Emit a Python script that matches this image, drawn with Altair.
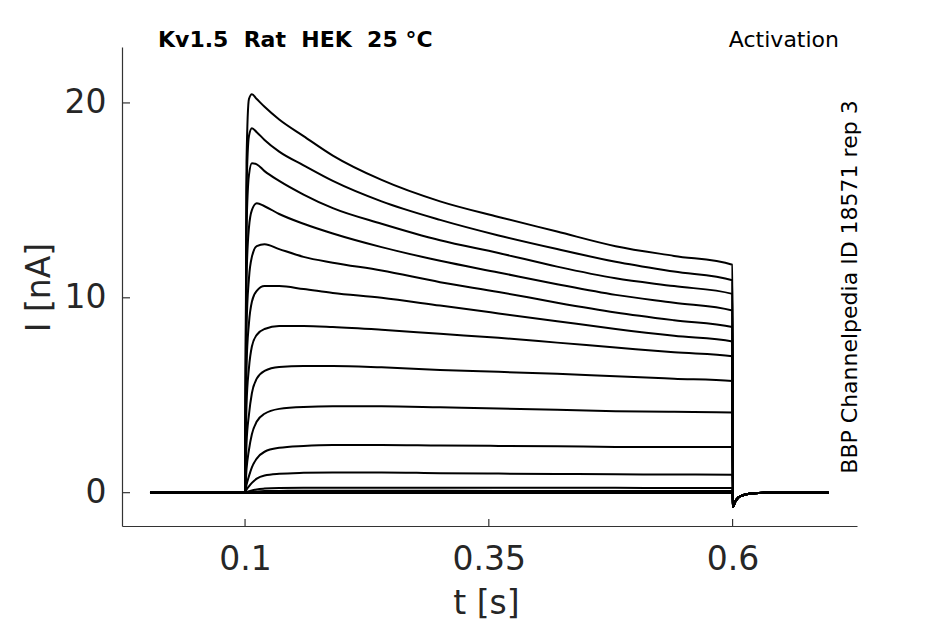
import altair as alt
import pandas as pd

# ---- data ----
t_base = [0.0025, 0.1]
t_pulse = [0.1015, 0.104, 0.107, 0.112, 0.12, 0.135, 0.16, 0.19, 0.24,
           0.30, 0.36, 0.42, 0.48, 0.54, 0.5998]
t_tail = [0.6003, 0.6027, 0.6062, 0.6113, 0.6216, 0.635, 0.6985]
i_tail = [-0.72, -0.46, -0.24, -0.12, -0.03, 0.0, 0.0]

trace_a = [17.0, 20.2, 20.45, 20.2, 19.8, 19.15, 18.3, 17.3, 16.05, 14.95, 14.15, 13.4, 12.65, 12.15, 11.7]
trace_b = [15.5, 18.3, 18.7, 18.5, 18.1, 17.5, 16.8, 16.0, 14.95, 14.0, 13.2, 12.5, 11.85, 11.35, 10.9]
trace_c = [13.5, 16.3, 16.9, 16.85, 16.5, 16.0, 15.3, 14.6, 13.8, 12.95, 12.3, 11.6, 11.0, 10.6, 10.2]
trace_d = [11.0, 13.6, 14.5, 14.85, 14.7, 14.3, 13.8, 13.3, 12.6, 11.9, 11.3, 10.7, 10.15, 9.75, 9.35]
trace_e = [8.5, 11.0, 12.1, 12.65, 12.75, 12.5, 12.1, 11.8, 11.4, 10.8, 10.3, 9.75, 9.25, 8.85, 8.5]
trace_f = [6.5, 8.7, 9.8, 10.35, 10.6, 10.6, 10.45, 10.25, 10.0, 9.6, 9.2, 8.8, 8.4, 8.05, 7.76]
trace_g = [4.5, 6.4, 7.5, 8.1, 8.4, 8.55, 8.55, 8.5, 8.36, 8.15, 7.95, 7.7, 7.45, 7.2, 7.0]
trace_h = [2.5, 4.0, 5.1, 5.85, 6.25, 6.45, 6.5, 6.5, 6.43, 6.3, 6.2, 6.1, 5.97, 5.85, 5.73]
trace_i = [1.2, 2.2, 3.0, 3.65, 4.05, 4.3, 4.4, 4.43, 4.43, 4.38, 4.32, 4.25, 4.18, 4.15, 4.12]
trace_j = [0.4, 0.85, 1.3, 1.75, 2.1, 2.3, 2.4, 2.45, 2.45, 2.42, 2.4, 2.38, 2.35, 2.34, 2.34]
trace_k = [0.15, 0.32, 0.5, 0.72, 0.88, 0.97, 1.02, 1.04, 1.04, 1.0, 0.98, 0.96, 0.94, 0.93, 0.92]
trace_l = [0.03, 0.07, 0.12, 0.17, 0.21, 0.24, 0.25, 0.25, 0.25, 0.25, 0.25, 0.25, 0.25, 0.24, 0.24]
trace_m = [0.01, 0.02, 0.04, 0.06, 0.08, 0.09, 0.1, 0.1, 0.1, 0.1, 0.09, 0.09, 0.09, 0.08, 0.08]
trace_n = [0.0, 0.01, 0.01, 0.02, 0.02, 0.03, 0.03, 0.03, 0.03, 0.03, 0.03, 0.03, 0.03, 0.03, 0.03]
trace_o = [0.0, 0.0, 0.0, 0.0, 0.0, 0.0, 0.0, 0.0, 0.0, 0.0, 0.0, 0.0, 0.0, 0.0, 0.0]
trace_p = [-0.02, -0.02, -0.02, -0.02, -0.02, -0.02, -0.02, -0.02, -0.02, -0.02, -0.02, -0.02, -0.02, -0.02, -0.02]

x_ticks = [0.1, 0.35, 0.6]
y_ticks = [0, 10, 20]

title_left = "Kv1.5\u00a0\u00a0Rat\u00a0\u00a0HEK\u00a0\u00a025\u00a0°C"
title_right = "Activation"
side_label = "BBP Channelpedia ID 18571 rep 3"

traces = [trace_a, trace_b, trace_c, trace_d, trace_e, trace_f, trace_g, trace_h,
          trace_i, trace_j, trace_k, trace_l, trace_m, trace_n, trace_o, trace_p]

rows = []
for k, tr in enumerate(traces):
    ts = t_base + t_pulse + t_tail
    vs = [0.0, 0.0] + tr + i_tail
    for o, (t, v) in enumerate(zip(ts, vs)):
        rows.append({"trace": k, "t": t, "i": v, "o": o})
df = pd.DataFrame(rows)

W, H = 735, 479
FONT = "DejaVu Sans"
TXT = "#262626"

xscale = alt.Scale(domain=[-0.0262, 0.7276], nice=False, zero=False)
yscale = alt.Scale(domain=[-1.71, 22.87], nice=False, zero=False)

xaxis = alt.Axis(values=x_ticks, labelExpr="format(datum.value, '.2~f')",
                 title="t [s]",
                 ticks=False, tickSize=0, labelPadding=43,
                 labelBaseline="alphabetic", grid=False,
                 titleX=364, titleY=87, titleBaseline="alphabetic",
                 titleAlign="center", titleAnchor="middle")
yaxis = alt.Axis(values=y_ticks, labelExpr="format(datum.value, 'd')",
                 title="I [nA]",
                 ticks=False, tickSize=0, labelPadding=16, grid=False,
                 titleX=-73, titleY=240, titleAngle=270,
                 titleBaseline="alphabetic", titleAlign="center",
                 titleAnchor="middle")

lines = alt.Chart(df).mark_line(
    color="black", strokeWidth=2.0, interpolate="monotone"
).encode(
    x=alt.X("t:Q", scale=xscale, axis=xaxis),
    y=alt.Y("i:Q", scale=yscale, axis=yaxis),
    detail="trace:N",
    order="o:Q",
)

xt = alt.Chart(pd.DataFrame({"t": x_ticks})).mark_rule(
    color="#333333", strokeWidth=1.2
).encode(
    x=alt.X("t:Q", scale=xscale, axis=xaxis),
    y=alt.value(H), y2=alt.value(H - 7),
)
yt = alt.Chart(pd.DataFrame({"i": y_ticks})).mark_rule(
    color="#333333", strokeWidth=1.2
).encode(
    y=alt.Y("i:Q", scale=yscale, axis=yaxis),
    x=alt.value(0), x2=alt.value(8),
)

one = pd.DataFrame({"a": [0]})
t1 = alt.Chart(one).mark_text(
    text=title_left, font=FONT, fontSize=22, fontWeight="bold", color="black",
    align="left", baseline="alphabetic"
).encode(x=alt.value(36), y=alt.value(0))
t2 = alt.Chart(one).mark_text(
    text=title_right, font=FONT, fontSize=22, color="black",
    align="right", baseline="alphabetic"
).encode(x=alt.value(717), y=alt.value(0))
t3 = alt.Chart(one).mark_text(
    text=side_label, font=FONT, fontSize=22, color="black", angle=270,
    align="center", baseline="alphabetic"
).encode(x=alt.value(735), y=alt.value(240))

chart = alt.layer(lines, xt, yt, t1, t2, t3).properties(
    width=W, height=H,
    autosize=alt.AutoSizeParams(type="none"),
    padding={"left": 114, "top": 39, "right": 80, "bottom": 98},
).configure_view(stroke=None).configure_axis(
    labelFont=FONT, titleFont=FONT, labelFontSize=33, titleFontSize=33,
    labelColor=TXT, titleColor=TXT, titleFontWeight="normal",
    domainColor="#333333", domainWidth=1.2,
)

chart.save("out.html", embed_options={"renderer": "svg", "actions": False})
